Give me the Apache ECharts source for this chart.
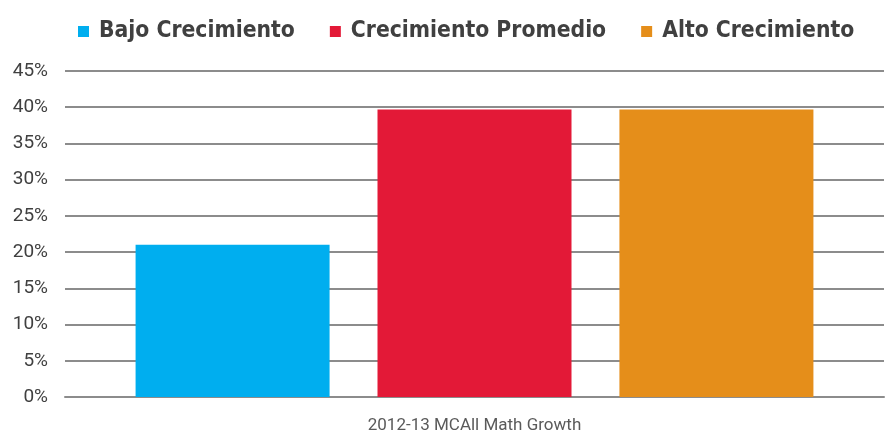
<!DOCTYPE html>
<html>
<head>
<meta charset="utf-8">
<script src="https://cdn.jsdelivr.net/npm/echarts@6/dist/echarts.min.js"></script>
<style>
html,body{margin:0;padding:0;background:#fff;}
#bar{width:886px;height:435px;}
</style>
</head>
<body>
<div id="bar"></div>
<script>
var categories = ['2012-13 MCAll Math Growth'];
var seriesNames = ['Bajo Crecimiento', 'Crecimiento Promedio', 'Alto Crecimiento'];
var seriesColors = ['#00aeef', '#e31937', '#e58e1a'];
var seriesValues = [[21.0], [39.7], [39.7]];

var series = [];
for (var i = 0; i < seriesNames.length; i++) {
	series.push({
		name: seriesNames[i],
		type: 'bar',
		barWidth: 194,
		barGap: '24.7%',
		itemStyle: {color: seriesColors[i]},
		data: seriesValues[i]
	});
}

var option = {
	animation: false,
	color: seriesColors,
	legend: {
		top: 15,
		left: 73,
		icon: 'rect',
		itemWidth: 11,
		itemHeight: 11,
		itemGap: 35,
		textStyle: {
			fontFamily: 'DejaVu Sans Condensed',
			fontWeight: 'bold',
			fontSize: 22.7,
			color: '#404040',
			padding: [0, 0, 0, 5]
		},
		data: seriesNames
	},
	grid: {left: 65, right: 2, top: 71, bottom: 38},
	xAxis: {
		type: 'category',
		data: categories,
		axisTick: {show: false},
		axisLine: {lineStyle: {color: '#8c8c8c', width: 2}},
		axisLabel: {margin: 20, fontSize: 17, color: '#5a5a5a', fontFamily: 'Roboto'}
	},
	yAxis: {
		type: 'value',
		min: 0,
		max: 45,
		interval: 5,
		axisLine: {show: false},
		axisTick: {show: false},
		axisLabel: {margin: 17, fontSize: 19, color: '#404040', fontFamily: 'Roboto', formatter: '{value}%'},
		splitLine: {lineStyle: {color: '#8c8c8c', width: 2}}
	},
	series: series
};

var myChart_1 = echarts.init(document.getElementById('bar'));
myChart_1.setOption(option);
</script>
</body>
</html>
